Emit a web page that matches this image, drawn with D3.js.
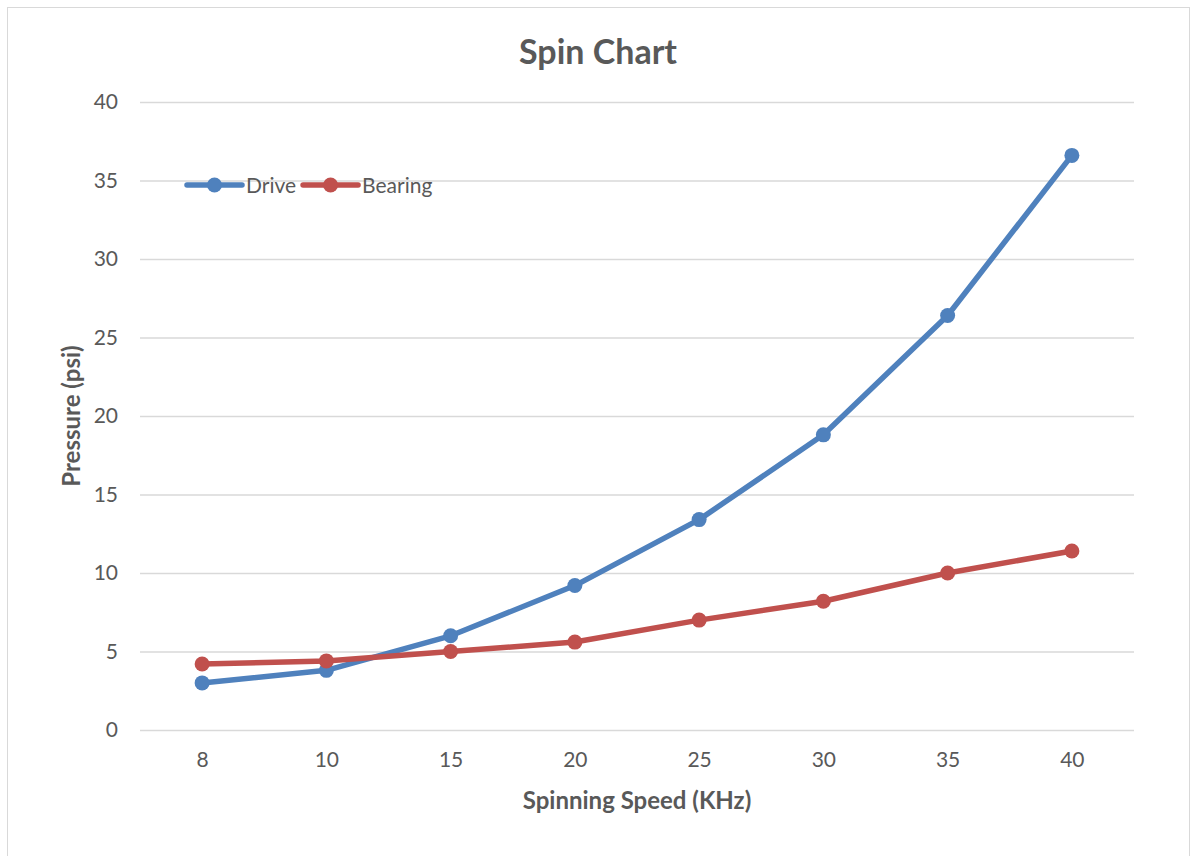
<!DOCTYPE html>
<html>
<head>
<meta charset="utf-8">
<script src="https://d3js.org/d3.v7.min.js"></script>
<style>
  body { margin: 0; background: #fff; }
  text { font-family: Lato, "Open Sans", sans-serif; fill: #595959; }
</style>
</head>
<body>
<svg id="spinChart" width="1191" height="856"></svg>
<script>
const speeds = ["8", "10", "15", "20", "25", "30", "35", "40"];
const drive = [3.0, 3.8, 6.0, 9.2, 13.4, 18.8, 26.4, 36.6];
const bearing = [4.2, 4.4, 5.0, 5.6, 7.0, 8.2, 10.0, 11.4];
const yTicks = [0, 5, 10, 15, 20, 25, 30, 35, 40];

const series = [
  { name: "Drive", values: drive, color: "#4f81bd" },
  { name: "Bearing", values: bearing, color: "#c0504d" }
];

const svg = d3.select("#spinChart");
const margin = { top: 102, right: 57, bottom: 126, left: 140 };
const width = +svg.attr("width");
const height = +svg.attr("height");
const innerWidth = width - margin.left - margin.right;
const innerHeight = height - margin.top - margin.bottom;

// chart frame (bottom edge runs past the picture)
svg.append("rect")
  .attr("x", 7.5).attr("y", 7.5)
  .attr("width", 1182).attr("height", 870)
  .attr("fill", "#fff")
  .attr("stroke", "#d9d9d9");

const xScale = d3.scalePoint()
  .domain(speeds)
  .range([0, innerWidth])
  .padding(0.5);

const yScale = d3.scaleLinear()
  .domain([0, 40])
  .range([innerHeight, 0]);

const g = svg.append("g")
  .attr("transform", `translate(${margin.left}, ${margin.top})`);

const yAxisG = g.append("g")
  .call(d3.axisLeft(yScale).tickValues(yTicks).tickSize(-innerWidth).tickPadding(22));
yAxisG.select(".domain").remove();
yAxisG.selectAll(".tick line").attr("stroke", "#d9d9d9").attr("stroke-width", 1.5);
yAxisG.selectAll(".tick text")
  .style("font-size", "21px")
  .attr("fill", "#595959");

const xAxisG = g.append("g")
  .attr("transform", `translate(0, ${innerHeight})`)
  .call(d3.axisBottom(xScale).tickSize(0).tickPadding(22));
xAxisG.select(".domain").remove();
xAxisG.selectAll(".tick text")
  .style("font-size", "21px")
  .attr("fill", "#595959");

const line = d3.line()
  .x((d, i) => xScale(speeds[i]))
  .y(d => yScale(d));

series.forEach(s => {
  g.append("path")
    .datum(s.values)
    .attr("fill", "none")
    .attr("stroke", s.color)
    .attr("stroke-width", 5.5)
    .attr("stroke-linejoin", "round")
    .attr("d", line);

  g.selectAll(null)
    .data(s.values)
    .enter()
    .append("circle")
    .attr("cx", (d, i) => xScale(speeds[i]))
    .attr("cy", d => yScale(d))
    .attr("r", 7.5)
    .attr("fill", s.color);
});

// title
svg.append("text")
  .attr("x", 598).attr("y", 64)
  .attr("text-anchor", "middle")
  .style("font-size", "34px")
  .style("font-weight", "bold")
  .text("Spin Chart");

// axis titles
svg.append("text")
  .attr("x", margin.left + innerWidth / 2).attr("y", 809)
  .attr("text-anchor", "middle")
  .style("font-size", "24px")
  .style("font-weight", "bold")
  .text("Spinning Speed (KHz)");

svg.append("text")
  .attr("transform", `translate(80, ${margin.top + innerHeight / 2}) rotate(-90)`)
  .attr("text-anchor", "middle")
  .style("font-size", "24px")
  .style("font-weight", "bold")
  .text("Pressure (psi)");

// legend
const legend = svg.append("g").attr("transform", "translate(187, 185)");
let lx = 0;
series.forEach(s => {
  const item = legend.append("g").attr("transform", `translate(${lx}, 0)`);
  item.append("line")
    .attr("x1", 0).attr("x2", 55)
    .attr("stroke", s.color).attr("stroke-width", 5.5)
    .attr("stroke-linecap", "round");
  item.append("circle").attr("cx", 27.5).attr("r", 7.5).attr("fill", s.color);
  const t = item.append("text")
    .attr("x", 59).attr("y", 8)
    .style("font-size", "21px")
    .text(s.name);
  lx += 59 + t.node().getComputedTextLength() + 7;
});
</script>
</body>
</html>
